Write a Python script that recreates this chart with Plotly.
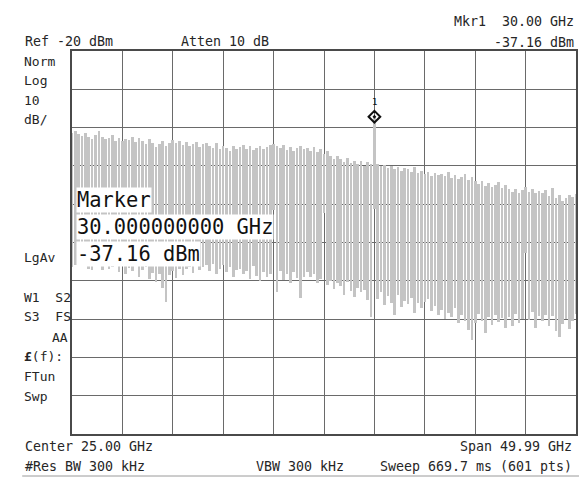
import numpy as np
import plotly.graph_objects as go

# ---- data (spectrum analyzer comb trace) ----
COMB_STEP_GHZ = 1.0 / 3.0          # spacing of the comb teeth
N_TEETH = 151
tooth_freq_ghz = np.arange(N_TEETH) * COMB_STEP_GHZ

# top of every comb tooth (dBm)
tooth_top_dbm = [
    -41.3, -41.0, -41.6, -42.2, -41.4, -42.5, -43.0, -42.0, -40.9, -42.4,
    -43.1, -42.6, -42.0, -43.4, -42.8, -43.6, -42.9, -43.3, -42.4, -43.8,
    -42.7, -43.5, -44.2, -43.0, -43.9, -45.0, -44.3, -43.6, -44.8, -43.9,
    -43.2, -44.0, -43.5, -44.6, -43.8, -44.9, -44.2, -43.7, -45.1, -44.4,
    -44.0, -44.8, -45.3, -44.1, -45.6, -44.7, -45.2, -46.0, -44.9, -45.5,
    -45.0, -44.6, -45.5, -44.8, -45.9, -45.2, -44.7, -45.6, -45.1, -44.5,
    -44.3, -44.9, -45.4, -44.6, -45.8, -45.1, -46.0, -45.3, -44.8, -45.6,
    -45.4, -46.1, -45.0, -46.4, -45.7, -46.9, -46.2, -47.5, -48.1, -47.4,
    -48.3, -48.9, -48.0, -49.2, -48.6, -49.5, -48.8, -49.9, -49.1, -49.6,
    -37.16,
    -49.4, -50.1, -49.7, -50.5, -49.9, -50.8, -50.3, -51.2, -50.6,
    -50.9, -51.6, -50.4, -51.9, -51.3, -52.2, -51.5, -52.6, -51.8, -52.4,
    -52.0, -52.7, -51.6, -53.1, -52.4, -53.5, -52.8, -52.2, -53.6, -52.9,
    -53.9, -54.6, -54.0, -55.2, -54.5, -55.6, -55.0, -54.3, -55.8, -55.1,
    -56.0, -56.7, -55.9, -57.0, -56.3, -55.4, -56.8, -56.1, -57.2, -56.5,
    -57.1, -56.2, -57.8, -55.8, -58.4, -57.5, -59.1, -58.3, -57.6, -58.0, -57.4,
]

# bottom of every comb tooth (dBm)
tooth_low_dbm = [
    -76.5, -75.8, -74.9, -76.2, -75.1, -76.8, -77.3, -75.6, -76.0, -77.1,
    -75.4, -77.0, -76.3, -75.7, -77.8, -76.1, -78.2, -76.6, -77.5, -75.9,
    -78.9, -77.2, -76.4, -79.6, -77.9, -80.3, -78.1, -82.0, -85.5, -78.6,
    -77.4, -79.2, -76.8, -78.5, -77.0, -76.3, -78.0, -75.9, -77.3, -76.5,
    -76.0, -77.4, -75.6, -78.2, -76.9, -75.8, -77.7, -76.4, -79.0, -77.1,
    -76.8, -78.3, -77.5, -79.4, -76.2, -78.8, -80.1, -77.6, -79.0, -78.2,
    -61.5, -82.9, -77.4, -79.8, -78.1, -80.5, -77.8, -79.3, -84.4, -78.9,
    -77.6, -79.0, -78.3, -80.6, -79.4, -62.2, -81.2, -80.0, -82.1, -80.7,
    -81.4, -83.7, -80.2, -82.6, -84.1, -81.9, -83.0, -82.3, -85.0, -89.5,
    -61.2,
    -84.8, -82.9, -86.3, -84.0, -85.7, -88.9, -83.6, -86.8, -85.2,
    -86.0, -84.5, -88.4, -85.9, -87.2, -85.5, -84.8, -87.9, -86.6, -89.0,
    -87.6, -90.1, -88.3, -89.5, -87.1, -91.0, -88.8, -90.4, -92.8, -95.4,
    -91.0, -88.7, -90.6, -93.6, -89.4, -91.5, -88.9, -90.8, -89.7, -92.2,
    -89.5, -91.8, -88.6, -90.9, -89.9, -72.7, -90.3, -88.2, -92.3, -89.1,
    -90.6, -88.8, -91.7, -89.3, -93.1, -94.6, -91.2, -89.9, -92.5, -90.4, -88.7,
]

marker_freq_ghz = [30.0]
marker_level_dbm = [-37.16]

ref_level_dbm = -20
db_per_div = 10
start_ghz = 0.005
stop_ghz = 49.995

top = np.array(tooth_top_dbm)
low = np.array(tooth_low_dbm)

# ---- figure ----
W, H = 581, 477
ML, MR, MT, MB = 72, 3, 51, 43
PW, PH = W - ML - MR, H - MT - MB
MONO = "DejaVu Sans Mono"
TXT = "#262626"


def px(x):
    return (x - ML) / PW


def py(y):
    return (H - MB - y) / PH


fig = go.Figure()
fig.add_trace(go.Bar(
    x=tooth_freq_ghz, y=top - low, base=low, width=0.26,
    marker=dict(color="#c4c4c4", line=dict(width=0)),
    hoverinfo="skip", showlegend=False,
))
fig.add_trace(go.Scatter(
    x=marker_freq_ghz, y=marker_level_dbm, mode="markers",
    marker=dict(symbol="diamond-open-dot", size=9, color="#111111",
                line=dict(width=2, color="#111111")),
    hoverinfo="skip", showlegend=False,
))

annos = []


def label(text, x, y, anchor="left", size=13):
    annos.append(dict(text=text, x=px(x), y=py(y), xref="paper", yref="paper",
                      xanchor=anchor, yanchor="middle", showarrow=False,
                      font=dict(family=MONO, size=size, color=TXT)))


label("Ref -20 dBm", 23, 41, size=13.3)
label("Atten 10 dB", 179, 41, size=13.3)
label("Mkr1  30.00 GHz", 578, 21, "right", size=13.3)
label("-37.16 dBm", 578, 43, "right", size=13.3)
for t, yy in [("Norm", 61), ("Log", 80), ("10", 100), ("dB/", 119),
              ("LgAv", 257), ("W1  S2", 297), ("S3  FS", 317),
              ("<b>£</b>(f):", 356), ("FTun", 376), ("Swp", 396)]:
    label(t, 22, yy)
label("AA", 70, 337, "right")
label("Center 25.00 GHz", 23, 446, size=13.3)
label("#Res BW 300 kHz", 23, 466, size=13.3)
label("VBW 300 kHz", 255, 466, size=13.3)
label("Span 49.99 GHz", 576, 446, "right", size=13.3)
label("Sweep 669.7 ms (601 pts)", 576, 466, "right", size=13.3)

# marker readout box on the screen
for t, yy in [("Marker", 200), ("30.000000000 GHz", 227), ("-37.16 dBm", 254.5)]:
    annos.append(dict(text=t, x=px(76.5), y=py(yy), xref="paper", yref="paper",
                      xanchor="left", yanchor="middle", showarrow=False,
                      bgcolor="white", borderpad=0,
                      font=dict(family=MONO, size=20.4, color="#111111")))

annos.append(dict(text="1", x=marker_freq_ghz[0], y=marker_level_dbm[0],
                  xref="x", yref="y", showarrow=False, yshift=15,
                  font=dict(family=MONO, size=9, color="#111111")))

fig.update_layout(
    width=W, height=H,
    margin=dict(l=ML, r=MR, t=MT, b=MB, pad=0),
    paper_bgcolor="white", plot_bgcolor="white",
    bargap=0, barmode="overlay",
    annotations=annos,
    shapes=[dict(type="line", xref="paper", yref="paper",
                 x0=px(22), x1=px(581), y0=py(476), y1=py(476),
                 line=dict(color="#9a9a9a", width=1))],
    xaxis=dict(range=[start_ghz, stop_ghz], tick0=start_ghz,
               dtick=(stop_ghz - start_ghz) / 10,
               showgrid=True, gridcolor="#6a6a6a", gridwidth=1.3,
               showline=True, mirror=True, linecolor="#4a4a4a", linewidth=2,
               showticklabels=False, ticks="", zeroline=False, fixedrange=True),
    yaxis=dict(range=[ref_level_dbm - 10 * db_per_div, ref_level_dbm],
               tick0=ref_level_dbm, dtick=db_per_div,
               showgrid=True, gridcolor="#6a6a6a", gridwidth=1.3,
               showline=True, mirror=True, linecolor="#4a4a4a", linewidth=2,
               showticklabels=False, ticks="", zeroline=False, fixedrange=True),
)

fig.write_html(
    "out.html",
    config={"displayModeBar": False},
    post_script="document.body.style.margin='0';document.body.style.overflow='hidden';",
)
